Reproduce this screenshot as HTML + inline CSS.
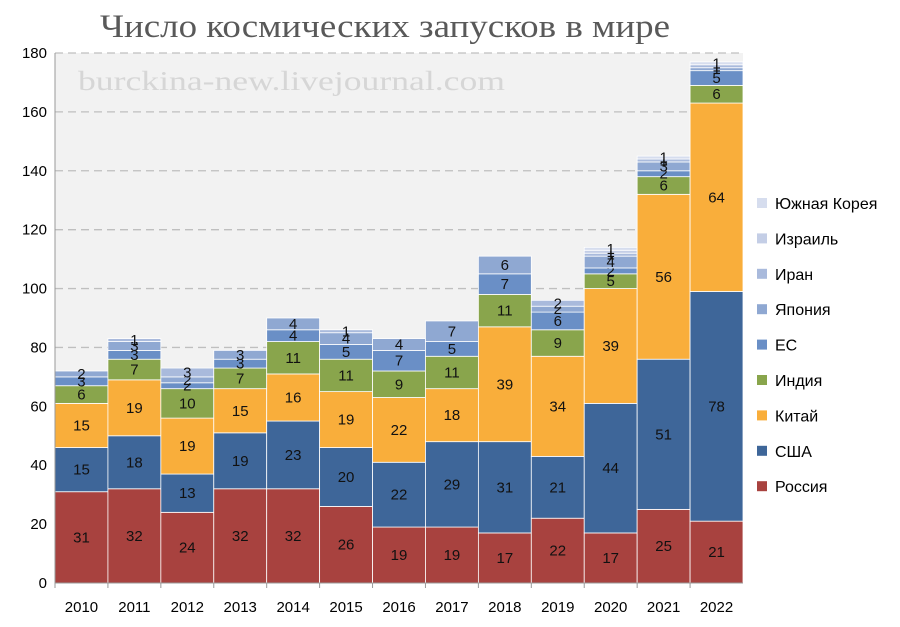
<!DOCTYPE html>
<html><head><meta charset="utf-8"><style>
body{margin:0;background:#fff;}
svg{display:block;font-family:"Liberation Sans",sans-serif;}
</style></head><body>
<svg id="c" width="900" height="627">
<rect x="55" y="53" width="688" height="530" fill="#f2f2f2"/>
<text x="100" y="37" textLength="570" lengthAdjust="spacingAndGlyphs" font-family="Liberation Serif, serif" font-size="33" fill="#595959">Число космических запусков в мире</text>
<text x="78" y="90" textLength="427" lengthAdjust="spacingAndGlyphs" font-family="Liberation Serif, serif" font-size="27" fill="#d6d6d6">burckina-new.livejournal.com</text>
<g id="grid"></g><g id="bars"></g><g id="axes"></g><g id="legend"></g>
</svg>
<script>
const years=["2010","2011","2012","2013","2014","2015","2016","2017","2018","2019","2020","2021","2022"];
const seriesNames=["Россия","США","Китай","Индия","ЕС","Япония","Иран","Израиль","Южная Корея"];
const russia=[31,32,24,32,32,26,19,19,17,22,17,25,21];
const usa=[15,18,13,19,23,20,22,29,31,21,44,51,78];
const china=[15,19,19,15,16,19,22,18,39,34,39,56,64];
const india=[6,7,10,7,11,11,9,11,11,9,5,6,6];
const eu=[3,3,2,3,4,5,7,5,7,6,2,2,5];
const japan=[2,3,2,3,4,4,4,7,6,2,4,3,1];
const iran=[0,1,3,0,0,1,0,0,0,2,1,1,1];
const israel=[0,0,0,0,0,0,0,0,0,0,1,0,0];
const korea=[0,0,0,0,0,0,0,0,0,0,1,1,1];
const yTicks=[0,20,40,60,80,100,120,140,160,180];
const colors=["#a8423f","#3e6699","#f9ae3b","#89a54c","#6a8fc6","#8fa8d2","#a9badc","#c4cee6","#d6ddee"];
const series=[russia,usa,china,india,eu,japan,iran,israel,korea];
const X0=55,X1=743,Y0=583,Y1=53,YMAX=180;
const y=v=>Y0-(v/YMAX)*(Y0-Y1);
const bw=(X1-X0)/years.length;
const x=i=>X0+i*bw;
const NS="http://www.w3.org/2000/svg";
function mk(t,a,p){const e=document.createElementNS(NS,t);for(const k in a)e.setAttribute(k,a[k]);p.appendChild(e);return e;}
const grid=document.getElementById('grid'),bars=document.getElementById('bars'),axes=document.getElementById('axes'),leg=document.getElementById('legend');
yTicks.forEach(t=>{
  if(t>0){const l=mk('line',{x1:X0,x2:X1,y1:y(t),y2:y(t),stroke:'#bfbfbf','stroke-dasharray':'8,5','stroke-width':1.3},grid);
  
  }
  const tx=mk('text',{x:X0-8,y:y(t)+5,'text-anchor':'end','font-size':15,fill:'#000'},axes);tx.textContent=t;
  
  
});
years.forEach((yr,i)=>{
  let base=0;
  series.forEach((s,k)=>{
    const v=s[i];if(!v)return;
    const r=mk('rect',{x:x(i),y:y(base+v),width:bw,height:y(base)-y(base+v),fill:colors[k],stroke:'#fff','stroke-width':0.8},bars);
    
    
    const t=mk('text',{x:x(i)+bw/2,y:(y(base)+y(base+v))/2+5,'text-anchor':'middle','font-size':15,fill:'#111'},bars);
    t.textContent=v;
    
    
    base+=v;
  });
  const tl=mk('text',{x:x(i)+bw/2,y:612,'text-anchor':'middle','font-size':15,fill:'#000'},axes);tl.textContent=yr;
  
  
  const tk=mk('line',{x1:x(i),x2:x(i),y1:Y0,y2:Y0+5,stroke:'#999'},axes);
  
  
});
const ax=mk('line',{x1:X0,x2:X1,y1:Y0,y2:Y0,stroke:'#999'},axes);


const ay=mk('line',{x1:X0,x2:X0,y1:Y1,y2:Y0,stroke:'#999'},axes);


for(let k=seriesNames.length-1,j=0;k>=0;k--,j++){
  const yy=203+j*35.4;
  const g=mk('g',{},leg);
  
  
  mk('rect',{x:757,y:yy-5,width:10,height:10,fill:colors[k]},g);
  const t=mk('text',{x:775,y:yy+6,'font-size':16,fill:'#000'},g);t.textContent=seriesNames[k];
}
</script>
</body></html>
